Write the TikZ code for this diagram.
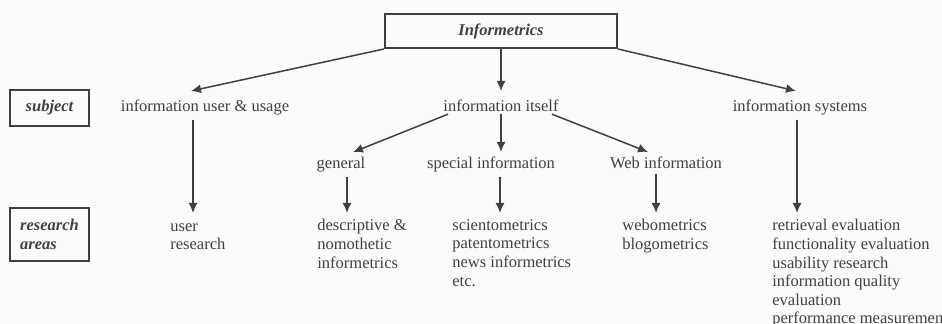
\documentclass[tikz,border=0pt]{standalone}
\usepackage{fontspec}
\setmainfont{Liberation Serif}
\usetikzlibrary{arrows.meta}
\definecolor{ink}{HTML}{404040}
\definecolor{paper}{HTML}{FBFBFB}
\tikzset{
  lbl/.style={inner sep=0pt, text=ink, font=\fontsize{8.25}{9.3}\selectfont},
  cat/.style={draw=ink, line width=1pt, inner sep=0pt, text=ink,
    font=\bfseries\itshape\fontsize{8.25}{9.3}\selectfont},
  arr/.style={draw=ink, line width=0.75pt, -{Latex[length=5pt,width=4.5pt]}},
}
\begin{document}
\begin{tikzpicture}[x=0.5pt,y=-0.5pt]
  \useasboundingbox (0,0) rectangle (942,324);
  \fill [paper] (0,0) rectangle (942,324);
  % boxes
  \node [cat, minimum width=116pt, minimum height=17pt] (top) at (501,31) {Informetrics};
  \node [cat, minimum width=39.5pt, minimum height=18pt] (subj) at (49.5,108) {subject};
  \node [cat, minimum width=39.5pt, minimum height=26.5pt, align=left] (areas) at (49.5,234.5) {research\\areas};
  % subjects
  \node [lbl, anchor=base] (user) at (205,112) {information user \& usage};
  \node [lbl, anchor=base] (itself) at (501,112) {information itself};
  \node [lbl, anchor=base] (sys) at (800,112) {information systems};
  \node [lbl, anchor=base] (gen) at (341,169) {general};
  \node [lbl, anchor=base] (spec) at (491,169) {special information};
  \node [lbl, anchor=base] (web) at (666,169) {Web information};
  % research areas
  \node [lbl, anchor=north west, align=left] (userres) at (170,223) {user\\research};
  \node [lbl, anchor=north west, align=left] (desc) at (317,219) {descriptive \&\\nomothetic\\informetrics};
  \node [lbl, anchor=north west, align=left] (scient) at (452,219) {scientometrics\\patentometrics\\news informetrics\\etc.};
  \node [lbl, anchor=north west, align=left] (webom) at (622,219) {webometrics\\blogometrics};
  \node [lbl, anchor=north west, align=left] (eval) at (772,219) {retrieval evaluation\\functionality evaluation\\usability research\\information quality\\evaluation\\performance measurement};
  % connectors
  \draw [arr] (top.south west) -- ([xshift=-7pt,yshift=4.5pt]user.north);
  \draw [arr] (top.south) -- ([yshift=4.5pt]top.south |- itself.north);
  \draw [arr] (top.south east) -- ([xshift=-2pt,yshift=4.5pt]sys.north);
  \draw [arr] ([xshift=2.5pt,yshift=-0.8pt]itself.south west) -- ([xshift=6pt,yshift=2.5pt]gen.north);
  \draw [arr] ([yshift=-0.8pt]itself.south) -- ([yshift=2.5pt]itself.south |- spec.north);
  \draw [arr] ([xshift=-3.5pt,yshift=-0.8pt]itself.south east) -- ([xshift=-9pt,yshift=2.5pt]web.north);
  \draw [arr] ([xshift=-6pt,yshift=-2pt]user.south) -- ([xshift=-6pt,yshift=3pt]user.south |- desc.north);
  \draw [arr] ([xshift=3pt,yshift=-2pt]gen.south) -- ([xshift=3pt,yshift=3pt]gen.south |- desc.north);
  \draw [arr] ([xshift=4.5pt,yshift=-2pt]spec.south) -- ([xshift=4.5pt,yshift=3pt]spec.south |- scient.north);
  \draw [arr] ([xshift=-5pt,yshift=-2pt]web.south) -- ([xshift=-5pt,yshift=3pt]web.south |- webom.north);
  \draw [arr] ([xshift=-1.5pt,yshift=-2pt]sys.south) -- ([xshift=-1.5pt,yshift=3pt]sys.south |- eval.north);
\end{tikzpicture}
\end{document}
